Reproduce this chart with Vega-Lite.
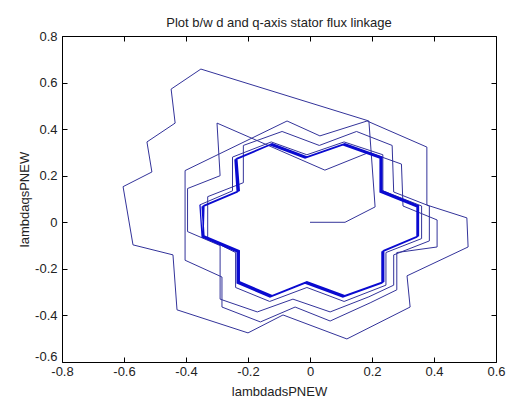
{
  "$schema": "https://vega.github.io/schema/vega-lite/v6.json",
  "width": 434,
  "height": 326,
  "autosize": {"type": "none"},
  "padding": {"left": 62, "top": 36, "right": 18, "bottom": 35},
  "background": "white",
  "title": {"text": "Plot b/w d and q-axis stator flux linkage", "font": "Liberation Sans", "fontSize": 13, "fontWeight": "normal", "color": "#222222", "offset": 10, "baseline": "alphabetic", "anchor": "middle", "dy": 20},
  "config": {
    "view": {"stroke": null},
    "axis": {"grid": false, "domainColor": "#000000", "tickColor": "#000000", "domainWidth": 1, "tickWidth": 1, "labelFont": "Liberation Sans", "titleFont": "Liberation Sans", "labelFontSize": 13, "titleFontSize": 13, "titleFontWeight": "normal", "labelColor": "#222222", "titleColor": "#222222", "labelFlush": false, "labelOverlap": false, "labelBound": false}
  },
  "data": {"values": [
    {"i":0,"x":0,"y":0,"p":"t"},
    {"i":1,"x":0.113,"y":0.0,"p":"t"},
    {"i":2,"x":0.21,"y":0.066,"p":"t"},
    {"i":3,"x":0.19,"y":0.435,"p":"t"},
    {"i":4,"x":-0.352,"y":0.658,"p":"t"},
    {"i":5,"x":-0.448,"y":0.572,"p":"t"},
    {"i":6,"x":-0.435,"y":0.426,"p":"t"},
    {"i":7,"x":-0.526,"y":0.345,"p":"t"},
    {"i":8,"x":-0.510,"y":0.216,"p":"t"},
    {"i":9,"x":-0.603,"y":0.153,"p":"t"},
    {"i":10,"x":-0.571,"y":-0.097,"p":"t"},
    {"i":11,"x":-0.442,"y":-0.140,"p":"t"},
    {"i":12,"x":-0.429,"y":-0.376,"p":"t"},
    {"i":13,"x":-0.200,"y":-0.475,"p":"t"},
    {"i":14,"x":-0.087,"y":-0.398,"p":"t"},
    {"i":15,"x":0.119,"y":-0.501,"p":"t"},
    {"i":16,"x":0.323,"y":-0.364,"p":"t"},
    {"i":17,"x":0.313,"y":-0.230,"p":"t"},
    {"i":18,"x":0.510,"y":-0.106,"p":"t"},
    {"i":19,"x":0.506,"y":0.019,"p":"t"},
    {"i":20,"x":0.377,"y":0.074,"p":"t"},
    {"i":21,"x":0.377,"y":0.323,"p":"t"},
    {"i":22,"x":0.184,"y":0.435,"p":"t"},
    {"i":23,"x":0.032,"y":0.371,"p":"t"},
    {"i":24,"x":-0.074,"y":0.435,"p":"t"},
    {"i":25,"x":-0.403,"y":0.222,"p":"t"},
    {"i":26,"x":-0.403,"y":-0.163,"p":"t"},
    {"i":27,"x":-0.284,"y":-0.235,"p":"t"},
    {"i":28,"x":-0.284,"y":-0.364,"p":"t"},
    {"i":29,"x":-0.160,"y":-0.428,"p":"t"},
    {"i":30,"x":-0.048,"y":-0.364,"p":"t"},
    {"i":31,"x":0.065,"y":-0.424,"p":"t"},
    {"i":32,"x":0.194,"y":-0.346,"p":"t"},
    {"i":33,"x":0.280,"y":-0.290,"p":"t"},
    {"i":34,"x":0.280,"y":-0.130,"p":"t"},
    {"i":35,"x":0.410,"y":-0.106,"p":"t"},
    {"i":36,"x":0.410,"y":0.010,"p":"t"},
    {"i":37,"x":0.300,"y":0.070,"p":"t"},
    {"i":38,"x":0.295,"y":0.250,"p":"t"},
    {"i":39,"x":0.190,"y":0.300,"p":"t"},
    {"i":40,"x":0.048,"y":0.224,"p":"t"},
    {"i":41,"x":-0.300,"y":0.426,"p":"t"},
    {"i":42,"x":-0.290,"y":0.200,"p":"t"},
    {"i":43,"x":-0.395,"y":0.145,"p":"t"},
    {"i":44,"x":-0.395,"y":-0.040,"p":"t"},
    {"i":45,"x":-0.290,"y":-0.100,"p":"t"},
    {"i":46,"x":-0.290,"y":-0.330,"p":"t"},
    {"i":47,"x":-0.170,"y":-0.385,"p":"t"},
    {"i":48,"x":-0.055,"y":-0.330,"p":"t"},
    {"i":49,"x":0.065,"y":-0.385,"p":"t"},
    {"i":50,"x":0.190,"y":-0.320,"p":"t"},
    {"i":51,"x":0.270,"y":-0.270,"p":"t"},
    {"i":52,"x":0.270,"y":-0.140,"p":"t"},
    {"i":53,"x":0.385,"y":-0.080,"p":"t"},
    {"i":54,"x":0.385,"y":0.070,"p":"t"},
    {"i":55,"x":0.270,"y":0.130,"p":"t"},
    {"i":56,"x":0.265,"y":0.330,"p":"t"},
    {"i":57,"x":0.150,"y":0.390,"p":"t"},
    {"i":58,"x":0.030,"y":0.330,"p":"t"},
    {"i":59,"x":-0.090,"y":0.390,"p":"t"},
    {"i":60,"x":-0.215,"y":0.330,"p":"t"},
    {"i":61,"x":-0.215,"y":0.170,"p":"t"},
    {"i":62,"x":-0.330,"y":0.110,"p":"t"},
    {"i":63,"x":-0.330,"y":-0.070,"p":"t"},
    {"i":64,"x":-0.240,"y":-0.130,"p":"t"},
    {"i":65,"x":-0.240,"y":-0.280,"p":"t"},
    {"i":66,"x":-0.130,"y":-0.340,"p":"t"},
    {"i":67,"x":-0.010,"y":-0.280,"p":"t"},
    {"i":68,"x":0.110,"y":-0.340,"p":"t"},
    {"i":69,"x":0.245,"y":-0.270,"p":"t"},
    {"i":70,"x":0.245,"y":-0.130,"p":"t"},
    {"i":71,"x":0.360,"y":-0.070,"p":"t"},
    {"i":72,"x":0.360,"y":0.070,"p":"t"},
    {"i":73,"x":0.235,"y":0.135,"p":"t"},
    {"i":74,"x":0.235,"y":0.290,"p":"t"},
    {"i":75,"x":0.110,"y":0.345,"p":"t"},
    {"i":76,"x":-0.010,"y":0.290,"p":"t"},
    {"i":77,"x":-0.125,"y":0.345,"p":"t"},
    {"i":78,"x":-0.250,"y":0.280,"p":"t"},
    {"i":79,"x":-0.250,"y":0.135,"p":"t"},
    {"i":80,"x":-0.355,"y":0.075,"p":"t"},
    {"i":80,"x":-0.355,"y":0.075,"p":"s"},
    {"i":81,"x":-0.348,"y":-0.063,"p":"s"},
    {"i":82,"x":-0.235,"y":-0.127,"p":"s"},
    {"i":83,"x":-0.235,"y":-0.261,"p":"s"},
    {"i":84,"x":-0.129,"y":-0.321,"p":"s"},
    {"i":85,"x":-0.016,"y":-0.261,"p":"s"},
    {"i":86,"x":0.106,"y":-0.321,"p":"s"},
    {"i":87,"x":0.232,"y":-0.261,"p":"s"},
    {"i":88,"x":0.232,"y":-0.127,"p":"s"},
    {"i":89,"x":0.345,"y":-0.063,"p":"s"},
    {"i":90,"x":0.345,"y":0.066,"p":"s"},
    {"i":91,"x":0.226,"y":0.130,"p":"s"},
    {"i":92,"x":0.226,"y":0.276,"p":"s"},
    {"i":93,"x":0.106,"y":0.332,"p":"s"},
    {"i":94,"x":-0.016,"y":0.276,"p":"s"},
    {"i":95,"x":-0.129,"y":0.332,"p":"s"},
    {"i":96,"x":-0.242,"y":0.268,"p":"s"},
    {"i":97,"x":-0.235,"y":0.130,"p":"s"},
    {"i":98,"x":-0.348,"y":0.066,"p":"s"},
    {"i":99,"x":-0.342,"y":-0.058,"p":"s"},
    {"i":100,"x":-0.228,"y":-0.122,"p":"s"},
    {"i":101,"x":-0.228,"y":-0.255,"p":"s"},
    {"i":102,"x":-0.122,"y":-0.315,"p":"s"},
    {"i":103,"x":-0.010,"y":-0.255,"p":"s"},
    {"i":104,"x":0.112,"y":-0.315,"p":"s"},
    {"i":105,"x":0.238,"y":-0.255,"p":"s"},
    {"i":106,"x":0.238,"y":-0.121,"p":"s"},
    {"i":107,"x":0.350,"y":-0.058,"p":"s"},
    {"i":108,"x":0.350,"y":0.071,"p":"s"},
    {"i":109,"x":0.232,"y":0.136,"p":"s"},
    {"i":110,"x":0.232,"y":0.281,"p":"s"},
    {"i":111,"x":0.112,"y":0.338,"p":"s"},
    {"i":112,"x":-0.010,"y":0.281,"p":"s"},
    {"i":113,"x":-0.122,"y":0.338,"p":"s"},
    {"i":114,"x":-0.236,"y":0.274,"p":"s"},
    {"i":115,"x":-0.228,"y":0.136,"p":"s"},
    {"i":116,"x":-0.342,"y":0.072,"p":"s"},
    {"i":117,"x":-0.345,"y":-0.060,"p":"s"},
    {"i":118,"x":-0.232,"y":-0.124,"p":"s"},
    {"i":119,"x":-0.232,"y":-0.258,"p":"s"},
    {"i":120,"x":-0.126,"y":-0.318,"p":"s"},
    {"i":121,"x":-0.013,"y":-0.258,"p":"s"},
    {"i":122,"x":0.109,"y":-0.318,"p":"s"},
    {"i":123,"x":0.235,"y":-0.258,"p":"s"},
    {"i":124,"x":0.235,"y":-0.124,"p":"s"},
    {"i":125,"x":0.347,"y":-0.060,"p":"s"},
    {"i":126,"x":0.347,"y":0.068,"p":"s"},
    {"i":127,"x":0.229,"y":0.133,"p":"s"},
    {"i":128,"x":0.229,"y":0.278,"p":"s"},
    {"i":129,"x":0.109,"y":0.335,"p":"s"},
    {"i":130,"x":-0.013,"y":0.278,"p":"s"},
    {"i":131,"x":-0.126,"y":0.335,"p":"s"},
    {"i":132,"x":-0.239,"y":0.271,"p":"s"},
    {"i":133,"x":-0.232,"y":0.133,"p":"s"},
    {"i":134,"x":-0.345,"y":0.069,"p":"s"},
    {"i":135,"x":-0.345,"y":-0.060,"p":"s"}
  ]},
  "layer": [
    {
      "transform": [{"filter": "datum.p == 't'"}],
      "mark": {"type": "line", "color": "#33339a", "strokeWidth": 1, "clip": true},
      "encoding": {
        "x": {"field": "x", "type": "quantitative", "scale": {"domain": [-0.8, 0.6], "nice": false, "zero": false},
              "axis": {"orient": "bottom", "values": [-0.8, -0.6, -0.4, -0.2, 0, 0.2, 0.4, 0.6], "title": "lambdadsPNEW", "tickSize": -5, "labelPadding": 8,
                       "labelExpr": "datum.value == 0 ? '0' : (datum.value < 0 ? '-' : '') + format(abs(datum.value), '.1f')",
                       "titleY": 33, "titleBaseline": "alphabetic"}},
        "y": {"field": "y", "type": "quantitative", "scale": {"domain": [-0.6, 0.8], "nice": false, "zero": false},
              "axis": {"orient": "left", "values": [-0.6, -0.4, -0.2, 0, 0.2, 0.4, 0.6, 0.8], "title": "lambdaqsPNEW", "tickSize": -5, "labelPadding": 10,
                       "labelOffset": {"condition": {"test": "datum.value < -0.55", "value": -6}, "value": 0},
                       "labelExpr": "datum.value == 0 ? '0' : (datum.value < 0 ? '-' : '') + format(abs(datum.value), '.1f')",
                       "titleX": -38, "titleY": 163, "titleAngle": 270, "titleBaseline": "middle", "titleAlign": "center"}},
        "order": {"field": "i", "type": "quantitative"}
      }
    },
    {
      "transform": [{"filter": "datum.p == 's'"}],
      "mark": {"type": "line", "color": "#0a0ad0", "strokeWidth": 1.3, "clip": true},
      "encoding": {
        "x": {"field": "x", "type": "quantitative",
              "axis": {"orient": "top", "values": [-0.8, -0.6, -0.4, -0.2, 0, 0.2, 0.4, 0.6], "labels": false, "title": null, "tickSize": -5}},
        "y": {"field": "y", "type": "quantitative",
              "axis": {"orient": "right", "values": [-0.6, -0.4, -0.2, 0, 0.2, 0.4, 0.6, 0.8], "labels": false, "title": null, "tickSize": -5}},
        "order": {"field": "i", "type": "quantitative"}
      }
    }
  ],
  "resolve": {"axis": {"x": "independent", "y": "independent"}}
}
